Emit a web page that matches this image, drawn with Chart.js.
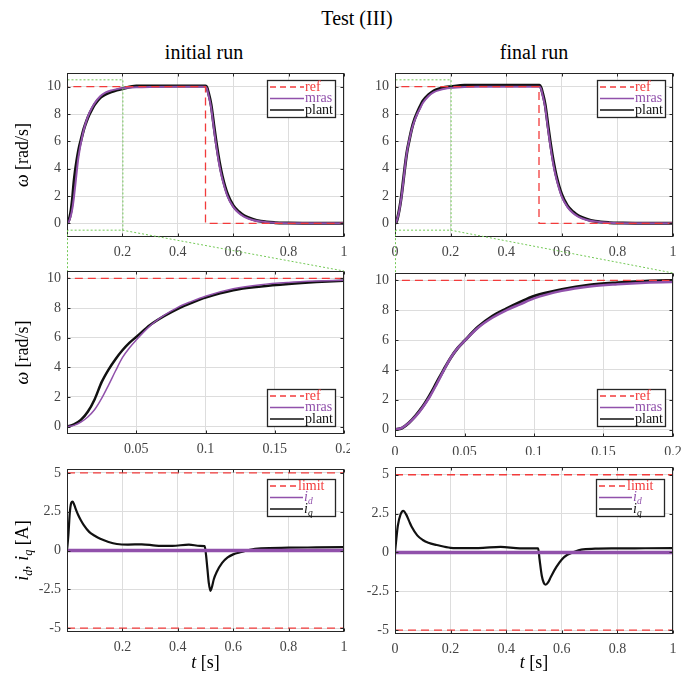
<!DOCTYPE html>
<html>
<head>
<meta charset="utf-8">
<script src="https://cdn.jsdelivr.net/npm/chart.js@4.4.0/dist/chart.umd.min.js"></script>
<style>
  body { margin: 0; background: #fff; }
  #page { position: relative; width: 694px; height: 675px; font-family: "Liberation Serif", serif; overflow: hidden; }
  #page canvas { position: absolute; }
  .ttl { position: absolute; font-size: 20px; line-height: 20px; color: #000; transform: translateX(-50%); white-space: nowrap; }
</style>
</head>
<body>
<div id="page">
  <div class="ttl" style="left:357px; top:8px;">Test (III)</div>
  <div class="ttl" style="left:204px; top:42px;">initial run</div>
  <div class="ttl" style="left:534px; top:42px;">final run</div>
</div>
<script>
// ---- data ----
// speed, initial run
const tOmegaInit = [0, 0.005, 0.01, 0.015, 0.02, 0.025, 0.03, 0.035, 0.04, 0.045, 0.05, 0.06, 0.07, 0.08, 0.09, 0.1, 0.12, 0.14, 0.16, 0.18, 0.2, 0.25, 0.3, 0.4, 0.5, 0.505, 0.51, 0.52, 0.53, 0.54, 0.55, 0.56, 0.58, 0.6, 0.62, 0.64, 0.67, 0.7, 0.75, 0.8, 0.9, 1];
const mrasInit = [0, 0.08, 0.3, 0.65, 1.15, 1.9, 2.8, 3.75, 4.65, 5.3, 5.85, 6.8, 7.5, 8.05, 8.45, 8.8, 9.3, 9.58, 9.73, 9.82, 9.88, 9.95, 9.98, 10, 10, 9.85, 9.45, 8.5, 6.95, 5.5, 4.25, 3.3, 1.95, 1.2, 0.75, 0.48, 0.25, 0.13, 0.04, 0.01, 0, 0];
const plantInit = [0, 0.15, 0.45, 1.0, 1.85, 3.0, 3.85, 4.55, 5.15, 5.65, 6.05, 6.85, 7.45, 7.95, 8.35, 8.7, 9.2, 9.45, 9.62, 9.75, 9.85, 10.05, 10.05, 10.05, 10.05, 9.95, 9.6, 8.7, 7.2, 5.75, 4.5, 3.5, 2.1, 1.3, 0.85, 0.55, 0.3, 0.15, 0.05, 0.02, 0, 0];
const tRefInit = [0, 0, 0.5, 0.5, 1];
const refInit = [0, 10, 10, 0, 0];

// speed, final run
const tOmegaFinal = [0, 0.005, 0.01, 0.015, 0.02, 0.025, 0.03, 0.035, 0.04, 0.045, 0.05, 0.06, 0.07, 0.08, 0.09, 0.1, 0.12, 0.14, 0.16, 0.18, 0.2, 0.25, 0.3, 0.4, 0.52, 0.525, 0.53, 0.54, 0.55, 0.56, 0.57, 0.58, 0.6, 0.62, 0.64, 0.66, 0.69, 0.72, 0.77, 0.82, 0.9, 1];
const mrasFinal = [0, 0.12, 0.45, 0.9, 1.5, 2.2, 3.05, 3.95, 4.8, 5.45, 5.95, 6.85, 7.5, 8.0, 8.4, 8.8, 9.3, 9.6, 9.75, 9.85, 9.9, 9.97, 10, 10, 10, 9.85, 9.45, 8.5, 6.95, 5.5, 4.25, 3.3, 1.95, 1.2, 0.75, 0.48, 0.25, 0.13, 0.04, 0.01, 0, 0];
const plantFinal = [0, 0.1, 0.45, 0.95, 1.55, 2.3, 3.15, 4.0, 4.8, 5.45, 5.95, 6.9, 7.6, 8.1, 8.55, 8.95, 9.4, 9.7, 9.85, 9.95, 10.0, 10.1, 10.1, 10.1, 10.1, 9.95, 9.6, 8.7, 7.2, 5.75, 4.5, 3.5, 2.1, 1.3, 0.85, 0.55, 0.3, 0.15, 0.05, 0.02, 0, 0];
const tRefFinal = [0, 0, 0.518, 0.518, 1];
const refFinal = [0, 10, 10, 0, 0];

// currents
const tCurInit = [0, 0.005, 0.01, 0.015, 0.02, 0.025, 0.03, 0.04, 0.05, 0.06, 0.08, 0.1, 0.12, 0.15, 0.18, 0.22, 0.27, 0.32, 0.38, 0.44, 0.48, 0.497, 0.502, 0.507, 0.512, 0.518, 0.524, 0.53, 0.54, 0.56, 0.58, 0.6, 0.63, 0.66, 0.7, 0.8, 0.9, 1];
const iqInit = [0, 1.0, 2.4, 3.05, 3.15, 3.0, 2.75, 2.3, 1.95, 1.65, 1.2, 0.95, 0.75, 0.55, 0.42, 0.38, 0.4, 0.32, 0.3, 0.38, 0.3, 0.28, -0.3, -1.2, -2.1, -2.6, -2.3, -1.85, -1.4, -0.8, -0.45, -0.25, -0.1, 0.05, 0.14, 0.18, 0.2, 0.22];
const tCurFinal = [0, 0.005, 0.01, 0.02, 0.03, 0.04, 0.05, 0.06, 0.08, 0.1, 0.12, 0.15, 0.2, 0.25, 0.3, 0.38, 0.45, 0.515, 0.52, 0.528, 0.535, 0.542, 0.55, 0.56, 0.58, 0.6, 0.62, 0.64, 0.67, 0.72, 0.8, 0.9, 1];
const iqFinal = [0, 0.9, 1.7, 2.45, 2.68, 2.45, 2.05, 1.65, 1.1, 0.8, 0.62, 0.48, 0.3, 0.28, 0.28, 0.36, 0.26, 0.26, -0.45, -1.5, -1.95, -2.08, -1.95, -1.6, -0.95, -0.45, -0.15, 0.0, 0.18, 0.24, 0.26, 0.27, 0.28];
const tId = [0, 1];
const idInit = [0, 0];
const idFinal = [0, 0];
const tLimit = [0, 1];
const limitUp = [5, 5];
const limitLow = [-5, -5];

// ticks
const xTicksFull = [0, 0.2, 0.4, 0.6, 0.8, 1];
const xTicksZoom = [0, 0.05, 0.1, 0.15, 0.2];
const yTicksOmega = [0, 2, 4, 6, 8, 10];
const yTicksCur = [-5, -2.5, 0, 2.5, 5];

// ---- styling ----
const RED = '#f23b3b', PURPLE = '#9151ab', BLACK = '#111', GREEN = '#74c957', GRID = '#dddddd', AXIS = '#262626';
const FONT = '"Liberation Serif", "Times New Roman", serif';
Chart.defaults.font.family = FONT;
Chart.defaults.color = '#404040';

const page = document.getElementById('page');
const cfgs = new WeakMap();

const pts = (ts, vs) => ts.map((t, i) => ({ x: t, y: vs[i] }));

const line = (ts, vs, color, width, dash, smooth) => ({
  data: pts(ts, vs),
  borderColor: color,
  borderWidth: width,
  borderDash: dash || [],
  pointRadius: 0,
  fill: false,
  tension: 0,
  cubicInterpolationMode: smooth ? 'monotone' : 'default'
});

// text with italic / subscript pieces
function drawRich(ctx, segs, x, y, size, color, align, rot) {
  ctx.save();
  ctx.translate(x, y);
  if (rot) ctx.rotate(-Math.PI / 2);
  ctx.textBaseline = 'middle';
  ctx.textAlign = 'left';
  ctx.fillStyle = color;
  const fontOf = s => (s.it ? 'italic ' : '') + (s.sub ? size * 0.68 : size) + 'px ' + FONT;
  const widths = segs.map(s => { ctx.font = fontOf(s); return ctx.measureText(s.t).width; });
  const total = widths.reduce((a, b) => a + b, 0);
  let cx = align === 'center' ? -total / 2 : 0;
  segs.forEach((s, i) => {
    ctx.font = fontOf(s);
    ctx.fillText(s.t, cx, s.sub ? size * 0.3 : 0);
    cx += widths[i];
  });
  ctx.restore();
}

function drawLegend(ctx, a, lg) {
  const bx = Math.round(a.right - lg.dx - lg.w);
  const by = Math.round(lg.corner === 'ne' ? a.top + lg.dy : a.bottom - lg.dy - lg.h);
  ctx.fillStyle = '#fff';
  ctx.fillRect(bx, by, lg.w, lg.h);
  ctx.strokeStyle = AXIS;
  ctx.lineWidth = 1.3;
  ctx.setLineDash([]);
  ctx.strokeRect(bx + 0.5, by + 0.5, lg.w, lg.h);
  lg.rows.forEach((r, i) => {
    const cy = by + 7 + i * 11.5;
    ctx.strokeStyle = r.color;
    ctx.lineWidth = r.width;
    ctx.setLineDash(r.dash || []);
    ctx.beginPath();
    ctx.moveTo(bx + 3, cy);
    ctx.lineTo(bx + r.tx - 1, cy);
    ctx.stroke();
    ctx.setLineDash([]);
    drawRich(ctx, r.segs, bx + r.tx, cy, 14, r.color, 'left');
  });
}

const framePlugin = {
  id: 'frame',
  afterDatasetsDraw(chart) {
    const cfg = cfgs.get(chart.canvas);
    const { ctx, chartArea: a } = chart;
    const x = chart.scales.x, y = chart.scales.y;
    ctx.save();
    if (cfg.zoomBox) {
      const x0 = x.getPixelForValue(0), x1 = x.getPixelForValue(0.2);
      const y0 = y.getPixelForValue(-0.5), y1 = y.getPixelForValue(10.5);
      ctx.strokeStyle = GREEN;
      ctx.lineWidth = 1;
      ctx.setLineDash([2, 2]);
      ctx.strokeRect(x0 + 0.5, y1, x1 - x0, y0 - y1);
      ctx.setLineDash([]);
    }
    // box and inward ticks
    const L = Math.round(a.left) + 0.5, R = Math.round(a.right) - 0.5;
    const T = Math.round(a.top) + 0.5, B = Math.round(a.bottom) - 0.5;
    ctx.strokeStyle = AXIS;
    ctx.lineWidth = 1;
    ctx.strokeRect(L, T, R - L, B - T);
    ctx.beginPath();
    cfg.xt.forEach(v => {
      const px = Math.round(x.getPixelForValue(v)) + 0.5;
      ctx.moveTo(px, B); ctx.lineTo(px, B - 3);
      ctx.moveTo(px, T); ctx.lineTo(px, T + 3);
    });
    cfg.yt.forEach(v => {
      const py = Math.round(y.getPixelForValue(v)) + 0.5;
      ctx.moveTo(L, py); ctx.lineTo(L + 3, py);
      ctx.moveTo(R, py); ctx.lineTo(R - 3, py);
    });
    ctx.stroke();
    drawLegend(ctx, a, cfg.legend);
    if (cfg.yTitle) drawRich(ctx, cfg.yTitle, 23 - cfg.left, (a.top + a.bottom) / 2, 18, '#000', 'center', true);
    if (cfg.xTitle) drawRich(ctx, cfg.xTitle, (a.left + a.right) / 2, 663 - cfg.top, 18, '#000', 'center', false);
    ctx.restore();
  }
};

const tickFont = { family: FONT, size: 14 };

function panel(cfg) {
  const cv = document.createElement('canvas');
  cv.width = cfg.w;
  cv.height = cfg.h;
  cv.style.left = cfg.left + 'px';
  cv.style.top = cfg.top + 'px';
  page.appendChild(cv);
  cfgs.set(cv, cfg);
  const p = cfg.plot;
  const xLabels = cfg.skip0 ? cfg.xt.filter(v => v !== 0) : cfg.xt;
  return new Chart(cv, {
    type: 'line',
    data: { datasets: cfg.datasets },
    options: {
      responsive: false,
      animation: false,
      devicePixelRatio: 1,
      layout: { padding: { left: 0, top: p[1] - cfg.top, right: cfg.left + cfg.w - p[2], bottom: 0 } },
      plugins: { legend: { display: false }, tooltip: { enabled: false } },
      scales: {
        x: {
          type: 'linear', min: cfg.xr[0], max: cfg.xr[1],
          grid: { color: GRID, drawTicks: false },
          border: { display: false },
          ticks: { padding: 7, font: tickFont, color: '#444', maxRotation: 0, autoSkip: false, callback: v => String(v) },
          afterBuildTicks: s => { s.ticks = xLabels.map(v => ({ value: v })); },
          afterFit: s => { s.height = cfg.top + cfg.h - p[3]; s.paddingLeft = 0; s.paddingRight = 0; }
        },
        y: {
          type: 'linear', min: cfg.yr[0], max: cfg.yr[1],
          grid: { color: GRID, drawTicks: false },
          border: { display: false },
          ticks: { padding: 6, font: tickFont, color: '#444', autoSkip: false, callback: v => String(v) },
          afterBuildTicks: s => { s.ticks = cfg.yt.map(v => ({ value: v })); },
          afterFit: s => { s.width = p[0] - cfg.left; s.paddingTop = 0; s.paddingBottom = 0; }
        }
      }
    },
    plugins: [framePlugin]
  });
}

const omegaTitle = [{ t: 'ω', it: 1 }, { t: ' [rad/s]' }];
const curTitle = [{ t: 'i', it: 1 }, { t: 'd', it: 1, sub: 1 }, { t: ', ' }, { t: 'i', it: 1 }, { t: 'q', it: 1, sub: 1 }, { t: ' [A]' }];
const timeTitle = [{ t: 't', it: 1 }, { t: ' [s]' }];

const omegaRows = [
  { segs: [{ t: 'ref' }], color: RED, width: 1.3, dash: [6, 4], tx: 38 },
  { segs: [{ t: 'mras' }], color: PURPLE, width: 1.5, tx: 38 },
  { segs: [{ t: 'plant' }], color: BLACK, width: 1.5, tx: 38 }
];
const curRows = [
  { segs: [{ t: 'limit' }], color: RED, width: 1.3, dash: [6, 4], tx: 31 },
  { segs: [{ t: 'i', it: 1 }, { t: 'd', it: 1, sub: 1 }], color: PURPLE, width: 1.5, tx: 37 },
  { segs: [{ t: 'i', it: 1 }, { t: 'q', it: 1, sub: 1 }], color: BLACK, width: 1.5, tx: 37 }
];

const omegaSets = (tw, mras, plant, tr, ref, wm, wp) => [
  line(tr, ref, RED, 1.3, [8, 5], false),
  line(tw, mras, PURPLE, wm, null, true),
  line(tw, plant, BLACK, wp, null, true)
];
const curSets = (tq, iq, id) => [
  line(tLimit, limitUp, RED, 1.3, [8, 5], false),
  line(tLimit, limitLow, RED, 1.3, [8, 5], false),
  line(tId, id, PURPLE, 3.5, null, false),
  line(tq, iq, BLACK, 2.2, null, true)
];

const tl = panel({
  left: 0, top: 58, w: 350, h: 204, plot: [67, 73, 344, 237],
  xr: [0, 1], yr: [-1, 11], xt: xTicksFull, yt: yTicksOmega, skip0: true, zoomBox: true,
  datasets: omegaSets(tOmegaInit, mrasInit, plantInit, tRefInit, refInit, 2, 3),
  legend: { corner: 'ne', dx: 9, dy: 7, w: 68, h: 37, rows: omegaRows }, yTitle: omegaTitle
});
const tr = panel({
  left: 350, top: 58, w: 344, h: 204, plot: [395, 73, 673, 237],
  xr: [0, 1], yr: [-1, 11], xt: xTicksFull, yt: yTicksOmega, zoomBox: true,
  datasets: omegaSets(tOmegaFinal, mrasFinal, plantFinal, tRefFinal, refFinal, 2, 3),
  legend: { corner: 'ne', dx: 8, dy: 7, w: 68, h: 37, rows: omegaRows }
});
const ml = panel({
  left: 0, top: 262, w: 350, h: 193, plot: [67, 271, 344, 434],
  xr: [0, 0.2], yr: [-0.5, 10.5], xt: xTicksZoom, yt: yTicksOmega, skip0: true,
  datasets: omegaSets(tOmegaInit, mrasInit, plantInit, tRefInit, refInit, 1.5, 2.5),
  legend: { corner: 'se', dx: 9, dy: 8, w: 68, h: 37, rows: omegaRows }, yTitle: omegaTitle
});
const mr = panel({
  left: 350, top: 262, w: 344, h: 193, plot: [395, 273, 673, 437],
  xr: [0, 0.2], yr: [-0.5, 10.5], xt: xTicksZoom, yt: yTicksOmega,
  datasets: omegaSets(tOmegaFinal, mrasFinal, plantFinal, tRefFinal, refFinal, 2.5, 3),
  legend: { corner: 'se', dx: 8, dy: 11, w: 68, h: 37, rows: omegaRows }
});
panel({
  left: 0, top: 455, w: 350, h: 220, plot: [67, 469, 344, 632],
  xr: [0, 1], yr: [-5.25, 5.25], xt: xTicksFull, yt: yTicksCur, skip0: true,
  datasets: curSets(tCurInit, iqInit, idInit),
  legend: { corner: 'ne', dx: 9, dy: 10, w: 68, h: 37, rows: curRows }, yTitle: curTitle, xTitle: timeTitle
});
panel({
  left: 350, top: 455, w: 344, h: 220, plot: [395, 467, 673, 634],
  xr: [0, 1], yr: [-5.25, 5.5], xt: xTicksFull, yt: yTicksCur,
  datasets: curSets(tCurFinal, iqFinal, idFinal),
  legend: { corner: 'ne', dx: 9, dy: 12, w: 68, h: 37, rows: curRows }, xTitle: timeTitle
});

// dotted connectors from the zoom box to the zoomed panels
const ov = document.createElement('canvas');
ov.width = 694; ov.height = 675;
ov.style.left = '0px'; ov.style.top = '0px';
page.appendChild(ov);
const octx = ov.getContext('2d');
octx.strokeStyle = GREEN;
octx.lineWidth = 1;
octx.setLineDash([2, 2]);
[[tl, ml, 0], [tr, mr, 350]].forEach(([top, mid, offX]) => {
  const offTop = parseFloat(top.canvas.style.top), offMid = parseFloat(mid.canvas.style.top);
  const yb = top.scales.y.getPixelForValue(-0.5) + offTop;
  const xa = top.scales.x.getPixelForValue(0) + offX, xb = top.scales.x.getPixelForValue(0.2) + offX;
  const a = mid.chartArea;
  octx.beginPath();
  octx.moveTo(xa + 0.5, yb); octx.lineTo(a.left + offX + 0.5, a.top + offMid);
  octx.moveTo(xb, yb); octx.lineTo(a.right + offX, a.top + offMid);
  octx.stroke();
});
</script>
</body>
</html>
